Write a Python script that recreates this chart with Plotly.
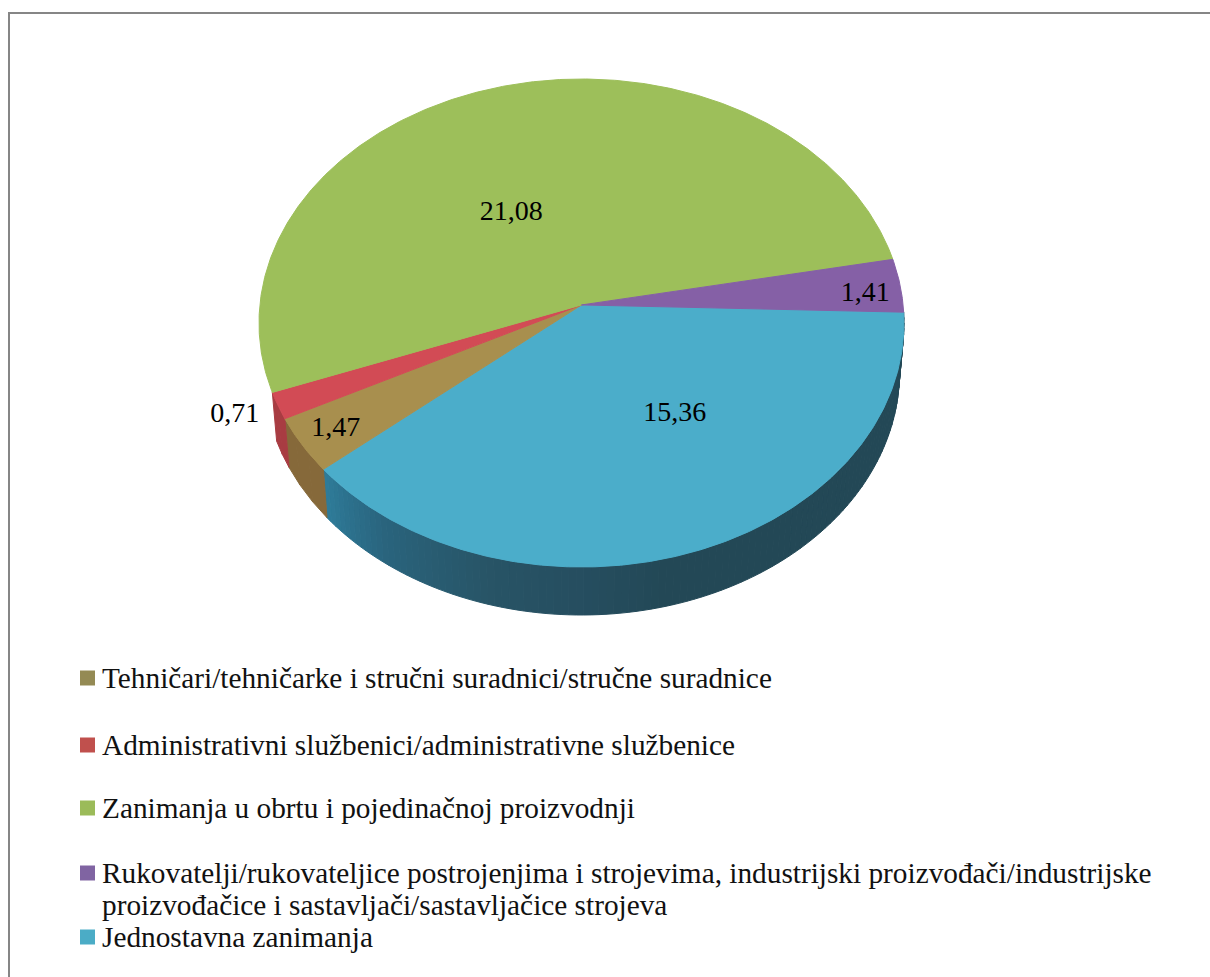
import numpy as np
import plotly.graph_objects as go

categories = [
    "Tehničari/tehničarke i stručni suradnici/stručne suradnice",
    "Administrativni službenici/administrativne službenice",
    "Zanimanja u obrtu i pojedinačnoj proizvodnji",
    "Rukovatelji/rukovateljice postrojenjima i strojevima, industrijski proizvođači/industrijske<br>proizvođačice i sastavljači/sastavljačice strojeva",
    "Jednostavna zanimanja",
]
values = [1.47, 0.71, 21.08, 1.41, 15.36]

top_colors = ["#A88F4E", "#D24B55", "#9DBF5A", "#8560A6", "#4BADCA"]
legend_colors = ["#948A54", "#C0504D", "#9BBB59", "#8064A2", "#4BACC6"]
side_colors = ["#86693A", "#A83C42", None, None, None]

# Projection of the tilted pie onto the axes (pixel-sized axes)
CX, CY, RX, RY = 581.5, 323.0, 322.5, 244.0
BX, BY, BRX, BRY = 581.5, 372.0, 318.0, 243.0
K = -0.074
START = 1.7
S = np.sqrt(1 - K * K)

def warp(theta, r=1.0):
    t = np.radians(theta)
    u, v = r * np.cos(t), r * np.sin(t)
    d = 1 + K * v
    return u * S / d, (v + K) / d

def top(theta, r=1.0):
    u, v = warp(theta, r)
    return CX + RX * u, CY + RY * v

def bottom(theta):
    u, v = warp(theta)
    return BX + BRX * u, BY + BRY * v

# Slices run clockwise from the last category
order = [4, 0, 1, 2, 3]
total = sum(values)
spans = {}
a = START
for i in order:
    b = a + values[i] / total * 360
    spans[i] = (a, b)
    a = b

fig = go.Figure()

def poly(xs, ys, color):
    fig.add_trace(go.Scatter(x=xs, y=ys, mode="lines", fill="toself", fillcolor=color,
                             line=dict(color=color, width=1), hoverinfo="skip", showlegend=False))

# Blue side shading
stop_t = [0, 75, 90, 105, 125, 141]
stop_r = [35, 35, 38, 40, 42, 47]
stop_g = [72, 72, 78, 84, 100, 126]
stop_b = [86, 86, 96, 102, 125, 156]

def strips(a0, b0, colorf, n):
    edges = np.linspace(a0, b0, n + 1)
    for e0, e1 in zip(edges[:-1], edges[1:]):
        th = np.linspace(e0, e1, 4)
        tx, ty = top(th)
        bx, by = bottom(th[::-1])
        poly(np.r_[tx, bx, tx[0]], np.r_[ty, by, ty[0]], colorf((e0 + e1) / 2))

strips(*spans[4], lambda t: "rgb(%d,%d,%d)" % (
    np.interp(t, stop_t, stop_r), np.interp(t, stop_t, stop_g), np.interp(t, stop_t, stop_b)), 110)
strips(*spans[0], lambda t: side_colors[0], 3)
strips(*spans[1], lambda t: side_colors[1], 2)

# Top face
for i in order:
    a0, b0 = spans[i]
    th = np.linspace(a0, b0, max(int((b0 - a0) * 2), 6))
    ax, ay = top(th)
    ox, oy = top(0.0, 0.0)
    poly(np.r_[ox, ax, ox], np.r_[oy, ay, oy], top_colors[i])

# Data labels, placed around each slice's middle
label_nudge = {0: (-81, 42), 1: (-167, 50), 2: (-20, 42), 3: (92, 1), 4: (27, -34)}
lx, ly, lt = [], [], []
for i in range(len(values)):
    x0, y0 = top(sum(spans[i]) / 2, 0.6)
    lx.append(x0 + label_nudge[i][0])
    ly.append(y0 + label_nudge[i][1])
    lt.append(f"{values[i]:.2f}".replace(".", ","))
fig.add_trace(go.Scatter(x=lx, y=ly, text=lt, mode="text", textposition="middle center",
                         textfont=dict(family="Liberation Serif", size=28, color="#000000"),
                         hoverinfo="skip", showlegend=False))

# Legend built on the same axes
legend_y = [678, 745, 808, 873, 937]
line_gap = 32
fig.add_trace(go.Scatter(x=[87.5] * 5, y=legend_y, mode="markers",
                         marker=dict(symbol="square", size=15, color=legend_colors, line=dict(width=0)),
                         hoverinfo="skip", showlegend=False))
annotations = []
for name, y in zip(categories, legend_y):
    for j, line in enumerate(name.split("<br>")):
        annotations.append(dict(x=100, y=y + j * line_gap, xref="x", yref="y", text=line,
                                showarrow=False, xanchor="left", yanchor="middle",
                                font=dict(family="Liberation Serif", size=29.3, color="#111111")))

fig.update_layout(
    width=1210, height=977,
    margin=dict(l=0, r=0, t=0, b=0),
    paper_bgcolor="#ffffff", plot_bgcolor="#ffffff",
    xaxis=dict(range=[0, 1210], visible=False, fixedrange=True),
    yaxis=dict(range=[977, 0], visible=False, fixedrange=True),
    annotations=annotations,
    shapes=[
        dict(type="line", xref="x", yref="y", x0=9, y0=13, x1=1210, y1=13, line=dict(color="#868686", width=2)),
        dict(type="line", xref="x", yref="y", x0=9, y0=12, x1=9, y1=977, line=dict(color="#868686", width=2)),
    ],
)

fig.write_html("out.html", config=dict(displayModeBar=False),
               post_script="document.body.style.margin='0';document.body.style.overflow='hidden';")
